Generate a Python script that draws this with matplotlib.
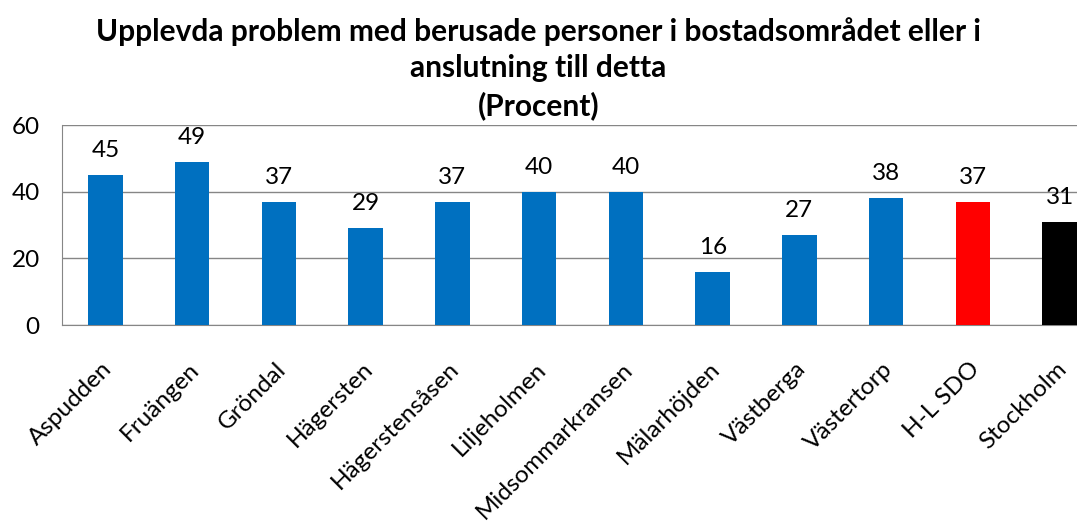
import matplotlib
matplotlib.use("Agg")
import matplotlib.pyplot as plt
from matplotlib.transforms import ScaledTranslation

categories = ["Aspudden", "Fruängen", "Gröndal", "Hägersten", "Hägerstensåsen",
              "Liljeholmen", "Midsommarkransen", "Mälarhöjden", "Västberga",
              "Västertorp", "H-L SDO", "Stockholm"]
values = [45, 49, 37, 29, 37, 40, 40, 16, 27, 38, 37, 31]
colors = ["#0070C0"] * 10 + ["#FF0000", "#000000"]
yticks = [0, 20, 40, 60]
title = "Upplevda problem med berusade personer i bostadsområdet eller i\nanslutning till detta\n(Procent)"

plt.rcParams['font.family'] = ['Lato', 'DejaVu Sans']

fig = plt.figure(figsize=(10.77, 5.22), dpi=100)
ax = fig.add_axes([62/1077, 197/522, 1041/1077, 200/522])
x = list(range(len(categories)))
ax.bar(x, values, width=0.4, color=colors, zorder=3)
ax.set_xlim(-0.5, len(categories) - 0.5)
ax.set_ylim(0, 60)
ax.set_yticks(yticks)
ax.yaxis.grid(True, color="#868686", linewidth=1, zorder=0)
for s in ["top", "right"]:
    ax.spines[s].set_visible(False)
for s in ["left", "bottom"]:
    ax.spines[s].set_color("#868686")
ax.tick_params(axis="both", length=0, labelsize=17.5, colors="black")
ax.tick_params(axis="y", pad=16)
ax.set_xticks(x)
ax.set_xticklabels(categories, rotation=45, ha="right", va="top", rotation_mode="anchor")
ax.tick_params(axis="x", pad=24)
shift = ScaledTranslation(-4/100, 0, fig.dpi_scale_trans)
for lbl in ax.get_xticklabels():
    lbl.set_transform(lbl.get_transform() + shift)
for xi, v in zip(x, values):
    ax.annotate(str(v), (xi, v), xytext=(0, 10), textcoords="offset points",
                ha="center", va="bottom", fontsize=17.5)
fig.text(0.5, 0.968, title, ha="center", va="top", fontsize=21.5, fontweight="bold",
         linespacing=1.38)
fig.savefig("out.png", dpi=100)
